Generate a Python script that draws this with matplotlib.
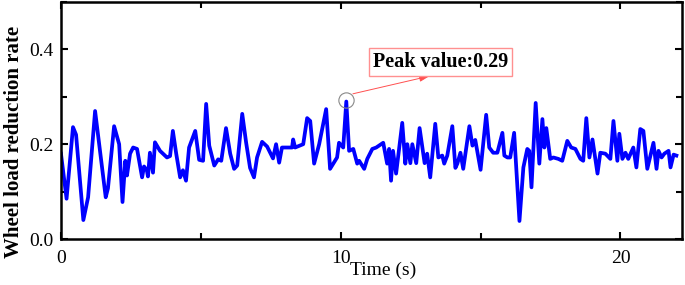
import numpy as np
import matplotlib.pyplot as plt
from matplotlib.ticker import MultipleLocator

plt.rcParams['font.family'] = ['Liberation Serif', 'DejaVu Serif']

# wheel load reduction rate
time_s = [0.0, 0.2, 0.43, 0.54, 0.8, 0.97, 1.22, 1.6, 1.68, 1.9, 2.08, 2.2, 2.3, 2.36,
          2.47, 2.58, 2.72, 2.9, 2.97, 3.07, 3.11, 3.18, 3.29, 3.36, 3.54, 3.79, 3.9,
          4.0, 4.12, 4.26, 4.36, 4.47, 4.58, 4.8, 4.94, 5.08, 5.19, 5.3, 5.48, 5.62,
          5.73, 5.9, 6.05, 6.19, 6.3, 6.48, 6.62, 6.76, 6.9, 7.01, 7.19, 7.37, 7.58,
          7.69, 7.8, 7.9, 8.26, 8.3, 8.37, 8.66, 8.8, 8.91, 9.05, 9.23, 9.48, 9.62,
          9.87, 9.94, 10.09, 10.2, 10.3, 10.45, 10.59, 10.66, 10.84, 10.95, 11.13,
          11.27, 11.52, 11.66, 11.73, 11.8, 11.87, 11.98, 12.2, 12.31, 12.38, 12.49,
          12.56, 12.7, 12.82, 13.0, 13.09, 13.2, 13.38, 13.49, 13.63, 13.7, 13.81,
          13.99, 14.1, 14.17, 14.28, 14.38, 14.6, 14.71, 14.81, 15.0, 15.2, 15.31,
          15.45, 15.6, 15.78, 15.85, 15.96, 16.06, 16.2, 16.39, 16.53, 16.67, 16.74,
          16.82, 16.97, 17.1, 17.21, 17.28, 17.35, 17.49, 17.6, 17.78, 17.92, 18.1,
          18.24, 18.39, 18.57, 18.67, 18.78, 18.89, 19.0, 19.18, 19.28, 19.46, 19.64,
          19.75, 19.89, 19.96, 20.07, 20.18, 20.28, 20.46, 20.57, 20.71, 20.82, 20.96,
          21.18, 21.29, 21.36, 21.47, 21.57, 21.72, 21.79, 21.9, 22.0]
rate = [0.18, 0.085, 0.236, 0.22, 0.04, 0.088, 0.27, 0.088, 0.107, 0.238, 0.2, 0.078,
        0.165, 0.134, 0.18, 0.193, 0.19, 0.13, 0.153, 0.145, 0.132, 0.182, 0.14, 0.204,
        0.186, 0.172, 0.175, 0.228, 0.18, 0.13, 0.145, 0.123, 0.193, 0.228, 0.167,
        0.165, 0.285, 0.197, 0.155, 0.168, 0.165, 0.234, 0.18, 0.148, 0.155, 0.264,
        0.203, 0.15, 0.13, 0.172, 0.205, 0.195, 0.17, 0.2, 0.161, 0.193, 0.193, 0.21,
        0.193, 0.2, 0.255, 0.249, 0.159, 0.2, 0.274, 0.148, 0.172, 0.203, 0.193, 0.29,
        0.186, 0.19, 0.159, 0.165, 0.148, 0.169, 0.19, 0.193, 0.203, 0.159, 0.19, 0.123,
        0.186, 0.138, 0.245, 0.159, 0.2, 0.16, 0.2, 0.16, 0.234, 0.16, 0.18, 0.13, 0.243,
        0.172, 0.176, 0.159, 0.176, 0.238, 0.15, 0.159, 0.182, 0.148, 0.238, 0.197,
        0.209, 0.146, 0.262, 0.193, 0.182, 0.182, 0.224, 0.176, 0.172, 0.172, 0.224,
        0.038, 0.151, 0.19, 0.186, 0.109, 0.287, 0.159, 0.253, 0.193, 0.234, 0.169,
        0.172, 0.169, 0.165, 0.207, 0.193, 0.19, 0.169, 0.165, 0.255, 0.172, 0.21,
        0.138, 0.182, 0.18, 0.169, 0.249, 0.165, 0.222, 0.169, 0.182, 0.169, 0.193,
        0.151, 0.232, 0.228, 0.148, 0.203, 0.148, 0.186, 0.172, 0.18, 0.186, 0.151,
        0.178, 0.176]

peak_t = 10.2
peak_v = 0.29

fig = plt.figure(figsize=(6.85, 2.85), dpi=100)
ax = fig.add_axes([0.089, 0.1614, 0.9066, 0.8316])
ax.plot(time_s, rate, color='#0000FF', lw=2.7, solid_joinstyle='round')

# circle round the peak and the callout box
ax.plot([peak_t], [peak_v + 0.003], marker='o', ms=11, mfc='none', mec='#888888', mew=0.8)
ax.annotate('', xy=(13.27, 0.345), xytext=(10.34, 0.305),
            arrowprops=dict(arrowstyle='-|>,head_length=0.6,head_width=0.2',
                            color='#FF5050', lw=0.7))
ax.text(13.56, 0.374, 'Peak value:0.29', fontsize=14.5, fontweight='bold',
        ha='center', va='center',
        bbox=dict(boxstyle='square,pad=0.2', fc='white', ec='#FF9090', lw=1))

ax.set_xlim(0, 22.2)
ax.set_ylim(0, 0.5)
ax.xaxis.set_major_locator(MultipleLocator(10))
ax.xaxis.set_minor_locator(MultipleLocator(5))
ax.yaxis.set_major_locator(MultipleLocator(0.2))
ax.yaxis.set_minor_locator(MultipleLocator(0.1))
ax.tick_params(which='both', direction='in', top=True, right=True, labelsize=14, width=1.5)
ax.tick_params(which='major', length=5)
ax.tick_params(which='minor', length=4)
ax.tick_params(axis='x', which='both', pad=8)
ax.tick_params(axis='y', which='both', pad=5.5)
ax.yaxis.set_major_formatter(plt.FormatStrFormatter('%.1f'))
for s in ax.spines.values():
    s.set_linewidth(1.8)

ax.set_xlabel('Time (s)', fontsize=14)
ax.xaxis.set_label_coords(0.518, -0.095)
ax.set_ylabel('Wheel load reduction rate', fontsize=15, fontweight='bold')
ax.yaxis.set_label_coords(-0.06, 0.41)

fig.savefig('out.png', dpi=100)
